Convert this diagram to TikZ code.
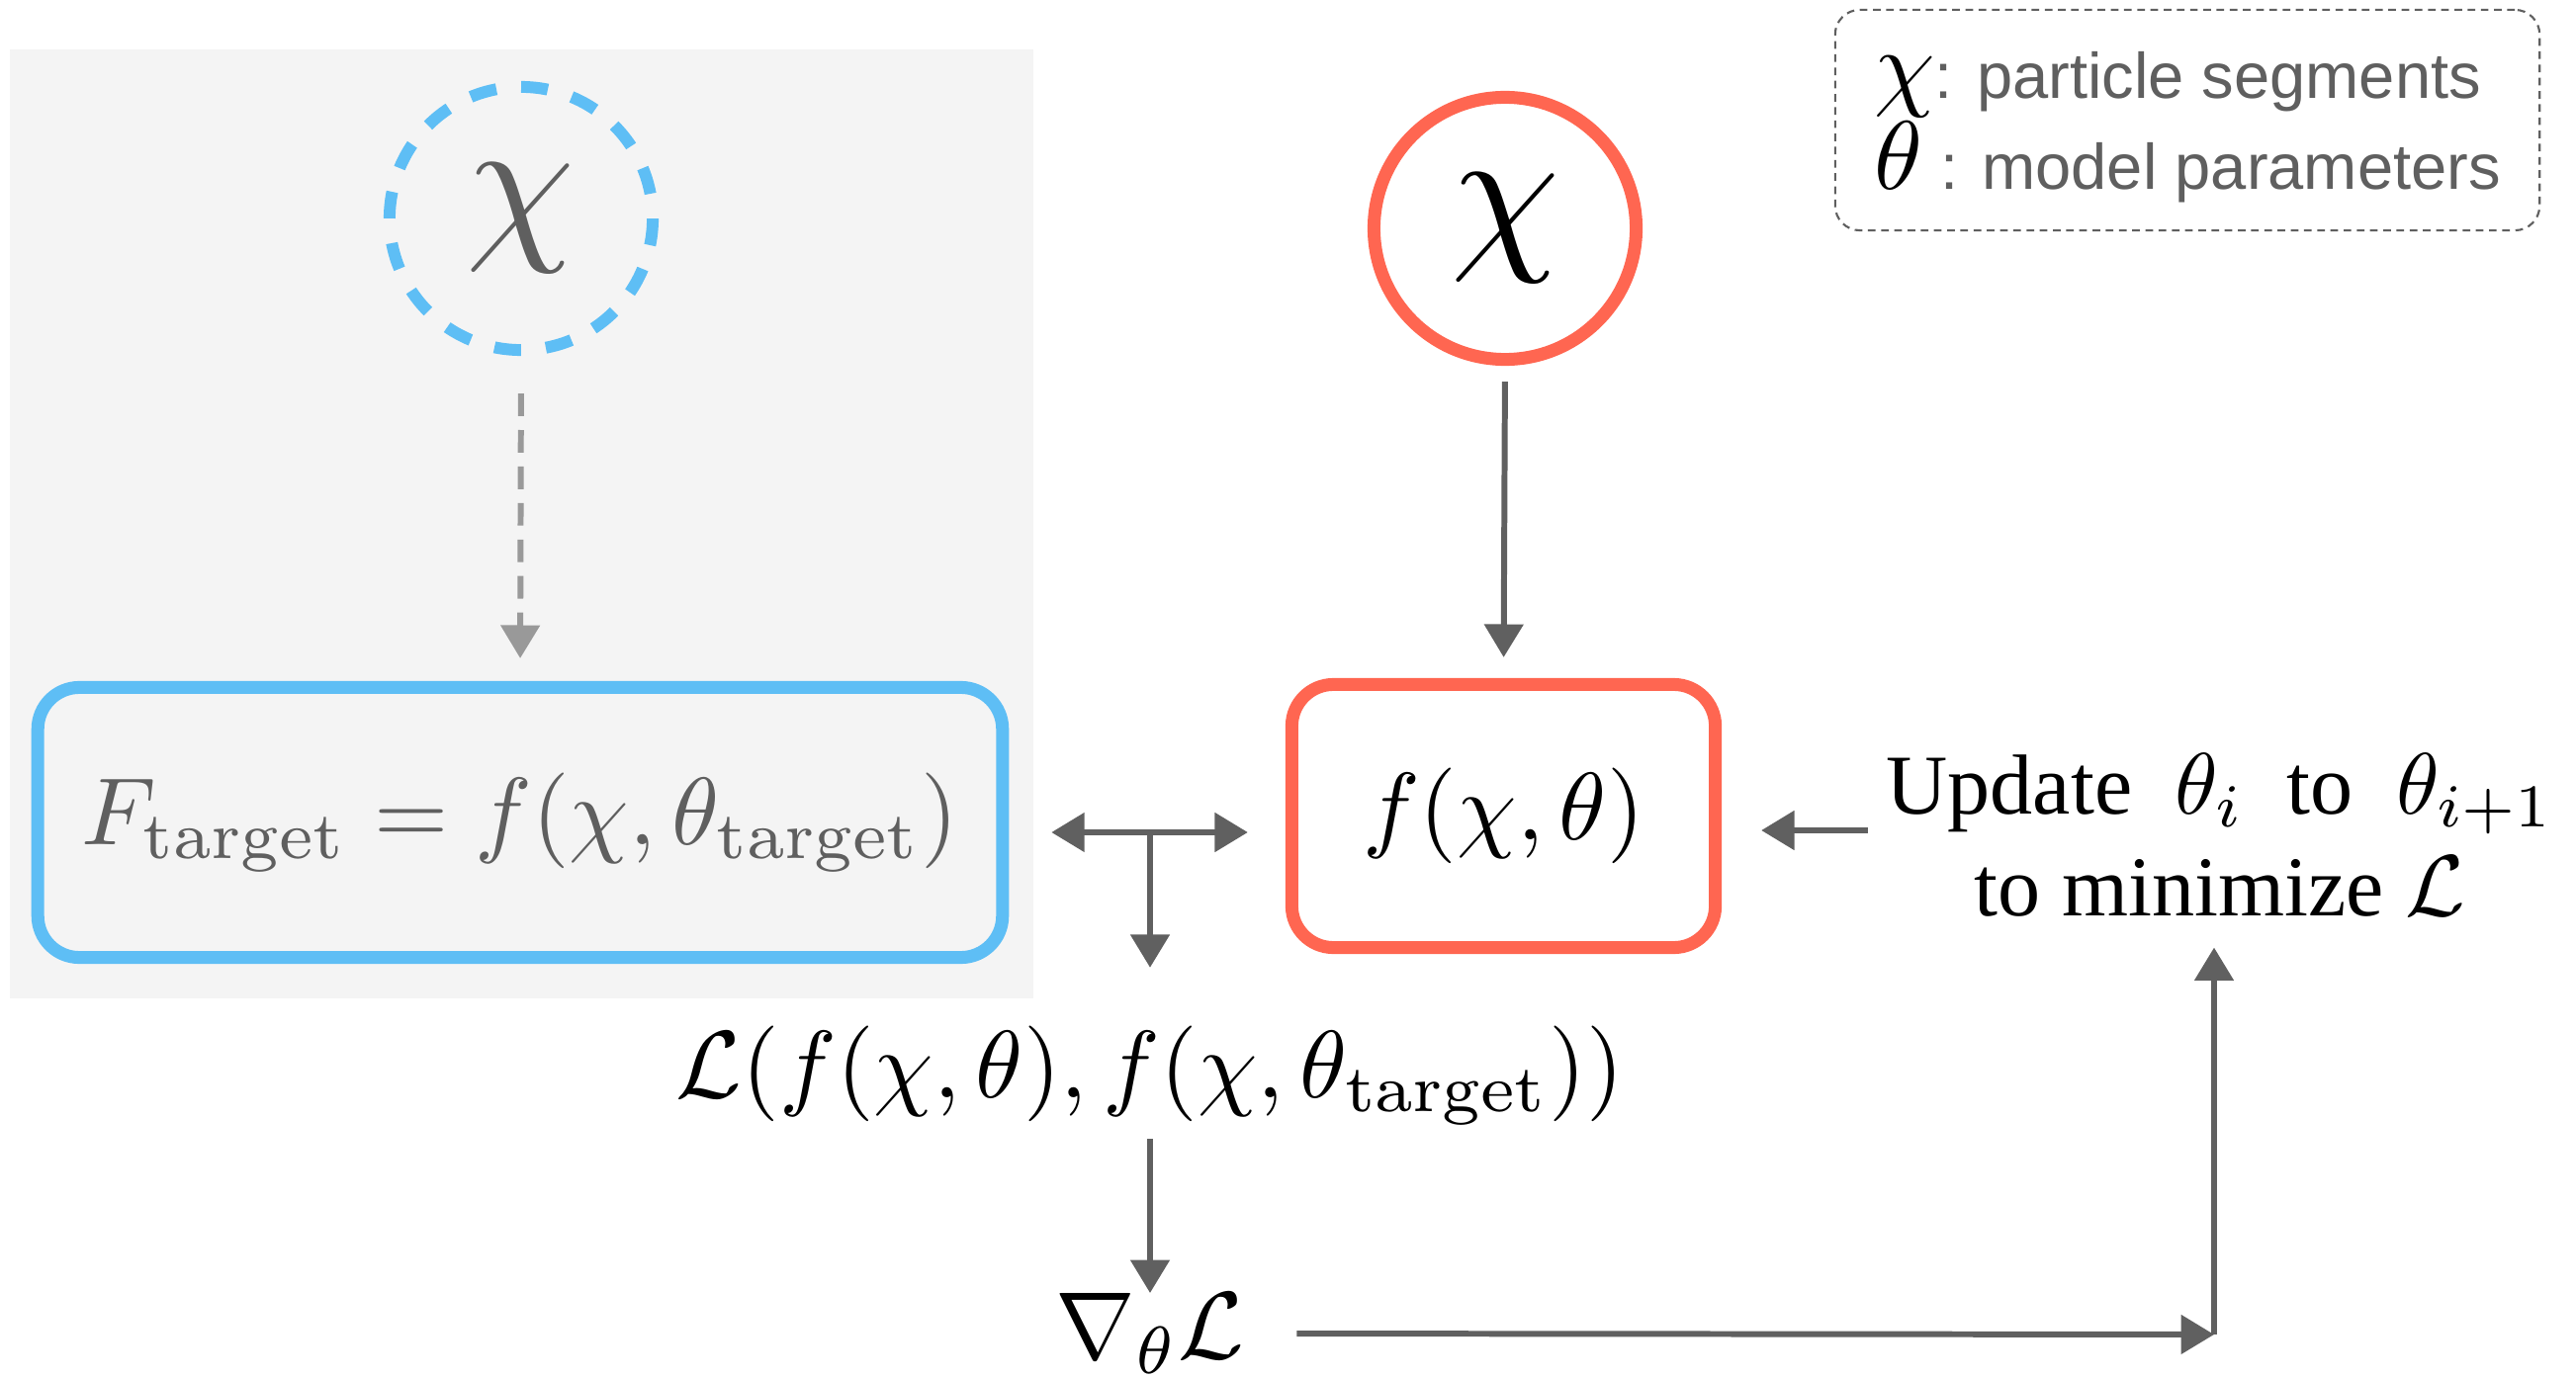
\RequirePackage{fix-cm}
\documentclass[tikz,border=0pt]{standalone}
\usepackage{graphicx}
\usepackage{fontspec}
\newfontfamily\timesf{Liberation Serif}
\newfontfamily\helvf{Liberation Sans}
\usetikzlibrary{arrows.meta,calc}
\definecolor{skyb}{HTML}{5EBEF5}
\definecolor{tomato}{HTML}{FF6651}
\definecolor{arrowgray}{HTML}{606060}
\definecolor{dashgray}{HTML}{999999}
\definecolor{bggray}{HTML}{F4F4F4}
\definecolor{txtgray}{HTML}{5F5F5F}
\newcommand{\scmath}[2]{\scalebox{#1}{\fontsize{10}{12}\selectfont$#2$}}
\begin{document}
\begin{tikzpicture}[x=0.01cm,y=-0.01cm,
  textnode/.style={inner sep=0pt},
  tip/.style={-{Triangle[length=9.5pt,width=11pt]}},
  conn/.style={draw=arrowgray, line width=1.7pt, tip},
  dconn/.style={draw=dashgray, line width=1.7pt, dash pattern=on 6.5pt off 4pt, tip},
  rbox/.style={rounded corners=0.42cm, line width=3.7pt}]
\useasboundingbox (0,0) rectangle (2605,1394);
\fill[bggray] (10,50) rectangle (1045,1010);

% legend
\node[draw=txtgray, line width=0.6pt, dash pattern=on 2.2pt off 1.6pt, rounded corners=0.25cm,
      minimum width=7.12cm, minimum height=2.23cm, inner sep=0pt,
      align=left, text=txtgray, font=\helvf\fontsize{18.5}{26}\selectfont] (legend) at (2212,121.5)
  {\rule{0pt}{17.5pt}\textcolor{black}{\scmath{2.8}{\chi}}: particle segments\\
   \textcolor{black}{\scmath{2.8}{\theta}}\ : model parameters};

% target branch
\node[circle, draw=skyb, line width=3.4pt, dash pattern=on 7.7pt off 7.16pt, dash phase=7.7pt,
      minimum size=2.66cm, inner sep=0pt, text=txtgray] (xt) at (527,221) {\raisebox{-0.07cm}{\scmath{5}{\chi}}};
\node[draw=skyb, rbox, minimum width=9.75cm, minimum height=2.73cm, text=txtgray] (ft) at (526,832)
  {\scmath{2.75}{F_{\mathrm{target}} = f(\chi,\theta_{\mathrm{target}})}};

% model branch
\node[circle, draw=tomato, line width=3.7pt, minimum size=2.65cm, inner sep=0pt] (xr) at (1522,231) {\scmath{5}{\chi}};
\node[draw=tomato, rbox, fill=white, minimum width=4.28cm, minimum height=2.66cm] (fm) at (1520.5,825.5)
  {\scmath{2.75}{f(\chi,\theta)}};

\node[textnode] (loss) at (1163,1088) {\scmath{2.75}{\mathcal{L}(f(\chi,\theta), f(\chi,\theta_{\mathrm{target}}))}};
\node[textnode] (grad) at (1163,1349) {\scmath{2.75}{\nabla_{\theta}\mathcal{L}}};
\node[textnode, font=\timesf\fontsize{24.5}{29.5}\selectfont, align=center] (upd) at (2245,845)
  {Update\ \ \scmath{2.5}{\theta_i}\ \ to\ \ \scmath{2.5}{\theta_{i+1}}\\to minimize \scmath{2.5}{\mathcal{L}}};

\coordinate (jn) at (1163,842);
\coordinate (corner) at (2239,1350);
\coordinate (uy) at (1900,840);

% connectors
\draw[dconn, shorten <=0.38cm, shorten >=0.23cm] (xt.south) -- (ft.north);
\draw[conn, shorten <=0.16cm, shorten >=0.21cm] (xr.south) -- (fm.north);
\draw[draw=arrowgray, line width=1.7pt, {Triangle[length=9.5pt,width=11pt]}-{Triangle[length=9.5pt,width=11pt]},
      shorten <=0.43cm, shorten >=0.38cm] (ft.east |- jn) -- (fm.west |- jn);
\draw[conn, shorten >=0.58cm] (jn) -- (loss.north);
\draw[conn, shorten <=0.13cm] (loss.south) -- (grad.north);
\draw[conn, shorten <=0.52cm] (grad.east) -- (corner);
\draw[conn, shorten >=0.30cm] (corner) -- (corner |- upd.south);
\draw[conn, shorten <=0.18cm, shorten >=0.40cm] (upd.west |- uy) -- (fm.east |- uy);
\end{tikzpicture}
\end{document}
